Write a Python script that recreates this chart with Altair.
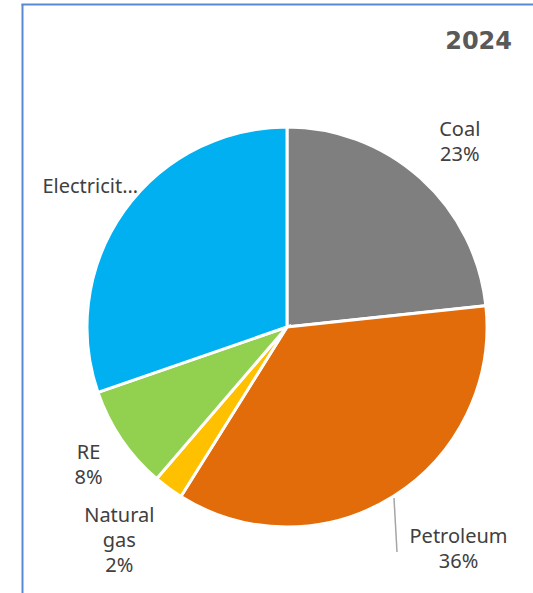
import altair as alt
import pandas as pd

categories = ["Coal", "Petroleum", "Natural gas", "RE", "Electricity"]
values = [23.3, 35.6, 2.4, 8.4, 30.3]
labels = ["Coal\n23%", "Petroleum\n36%", "Natural\ngas\n2%", "RE\n8%", "Electricit…"]
colors = ["#7F7F7F", "#E36C0A", "#FFC000", "#92D050", "#00B0F0"]
title_text = "2024"

df = pd.DataFrame({
    "category": categories,
    "value": values,
    "label": labels,
    "idx": list(range(len(categories))),
})

FONT = "Noto Sans"
TXT = "#404040"
LH = 25

base = alt.Chart(df)

arcs = base.mark_arc(outerRadius=200, stroke="white", strokeWidth=3).encode(
    theta=alt.Theta("value:Q", stack=True),
    color=alt.Color("category:N", scale=alt.Scale(domain=categories, range=colors), legend=None),
    order=alt.Order("idx:Q", sort="ascending"),
)

theta_mid = alt.Theta("mid:Q", stack=None, scale=alt.Scale(domain=[0, 100], range=[0, 6.283185307]))


def label_layer(cat, radius, dx=0, dy=0):
    n_lines = labels[categories.index(cat)].count("\n") + 1
    shift = -(n_lines - 1) * LH / 2
    return (
        base.transform_window(cum="sum(value)", sort=[alt.SortField("idx", order="ascending")])
        .transform_calculate(mid="datum.cum - datum.value / 2")
        .transform_filter(alt.FieldEqualPredicate(field="category", equal=cat))
        .mark_text(radius=radius, dx=dx, dy=dy + shift, font=FONT, fontSize=20, color=TXT,
                   lineBreak="\n", lineHeight=LH, align="center", baseline="middle")
        .encode(theta=theta_mid, text="label:N")
    )


lab_coal = label_layer("Coal", 248, dx=7)
lab_re = label_layer("RE", 246, dx=5)
lab_el = label_layer("Electricity", 244, dx=2, dy=2)
lab_gas = label_layer("Natural gas", 266, dx=-10)
lab_pet = label_layer("Petroleum", 280, dx=23, dy=-15)

one = alt.Chart(pd.DataFrame({"k": [0]}))

leader = one.mark_rule(color="#A6A6A6", strokeWidth=1.5).encode(
    x=alt.value(353), x2=alt.value(356), y=alt.value(437), y2=alt.value(491)
)

border_left = one.mark_rule(color="#5A8AD2", strokeWidth=2).encode(
    x=alt.value(-18.5), y=alt.value(-57), y2=alt.value(600)
)
border_top = one.mark_rule(color="#5A8AD2", strokeWidth=2).encode(
    x=alt.value(-19.5), x2=alt.value(600), y=alt.value(-56.5)
)

title = one.mark_text(font="DejaVu Sans", fontSize=24, fontWeight="bold", color="#595959",
                      align="right", baseline="middle").encode(
    x=alt.value(471), y=alt.value(-19), text=alt.value(title_text)
)

chart = (
    alt.layer(arcs, lab_coal, lab_re, lab_el, lab_gas, lab_pet, leader,
              border_left, border_top, title)
    .properties(width=492, height=532, autosize="none",
                padding={"left": 41, "top": 61, "right": 0, "bottom": 0},
                background="white")
    .configure_view(strokeOpacity=0)
)

chart.save("out.html", embed_options={"renderer": "svg", "actions": False})
